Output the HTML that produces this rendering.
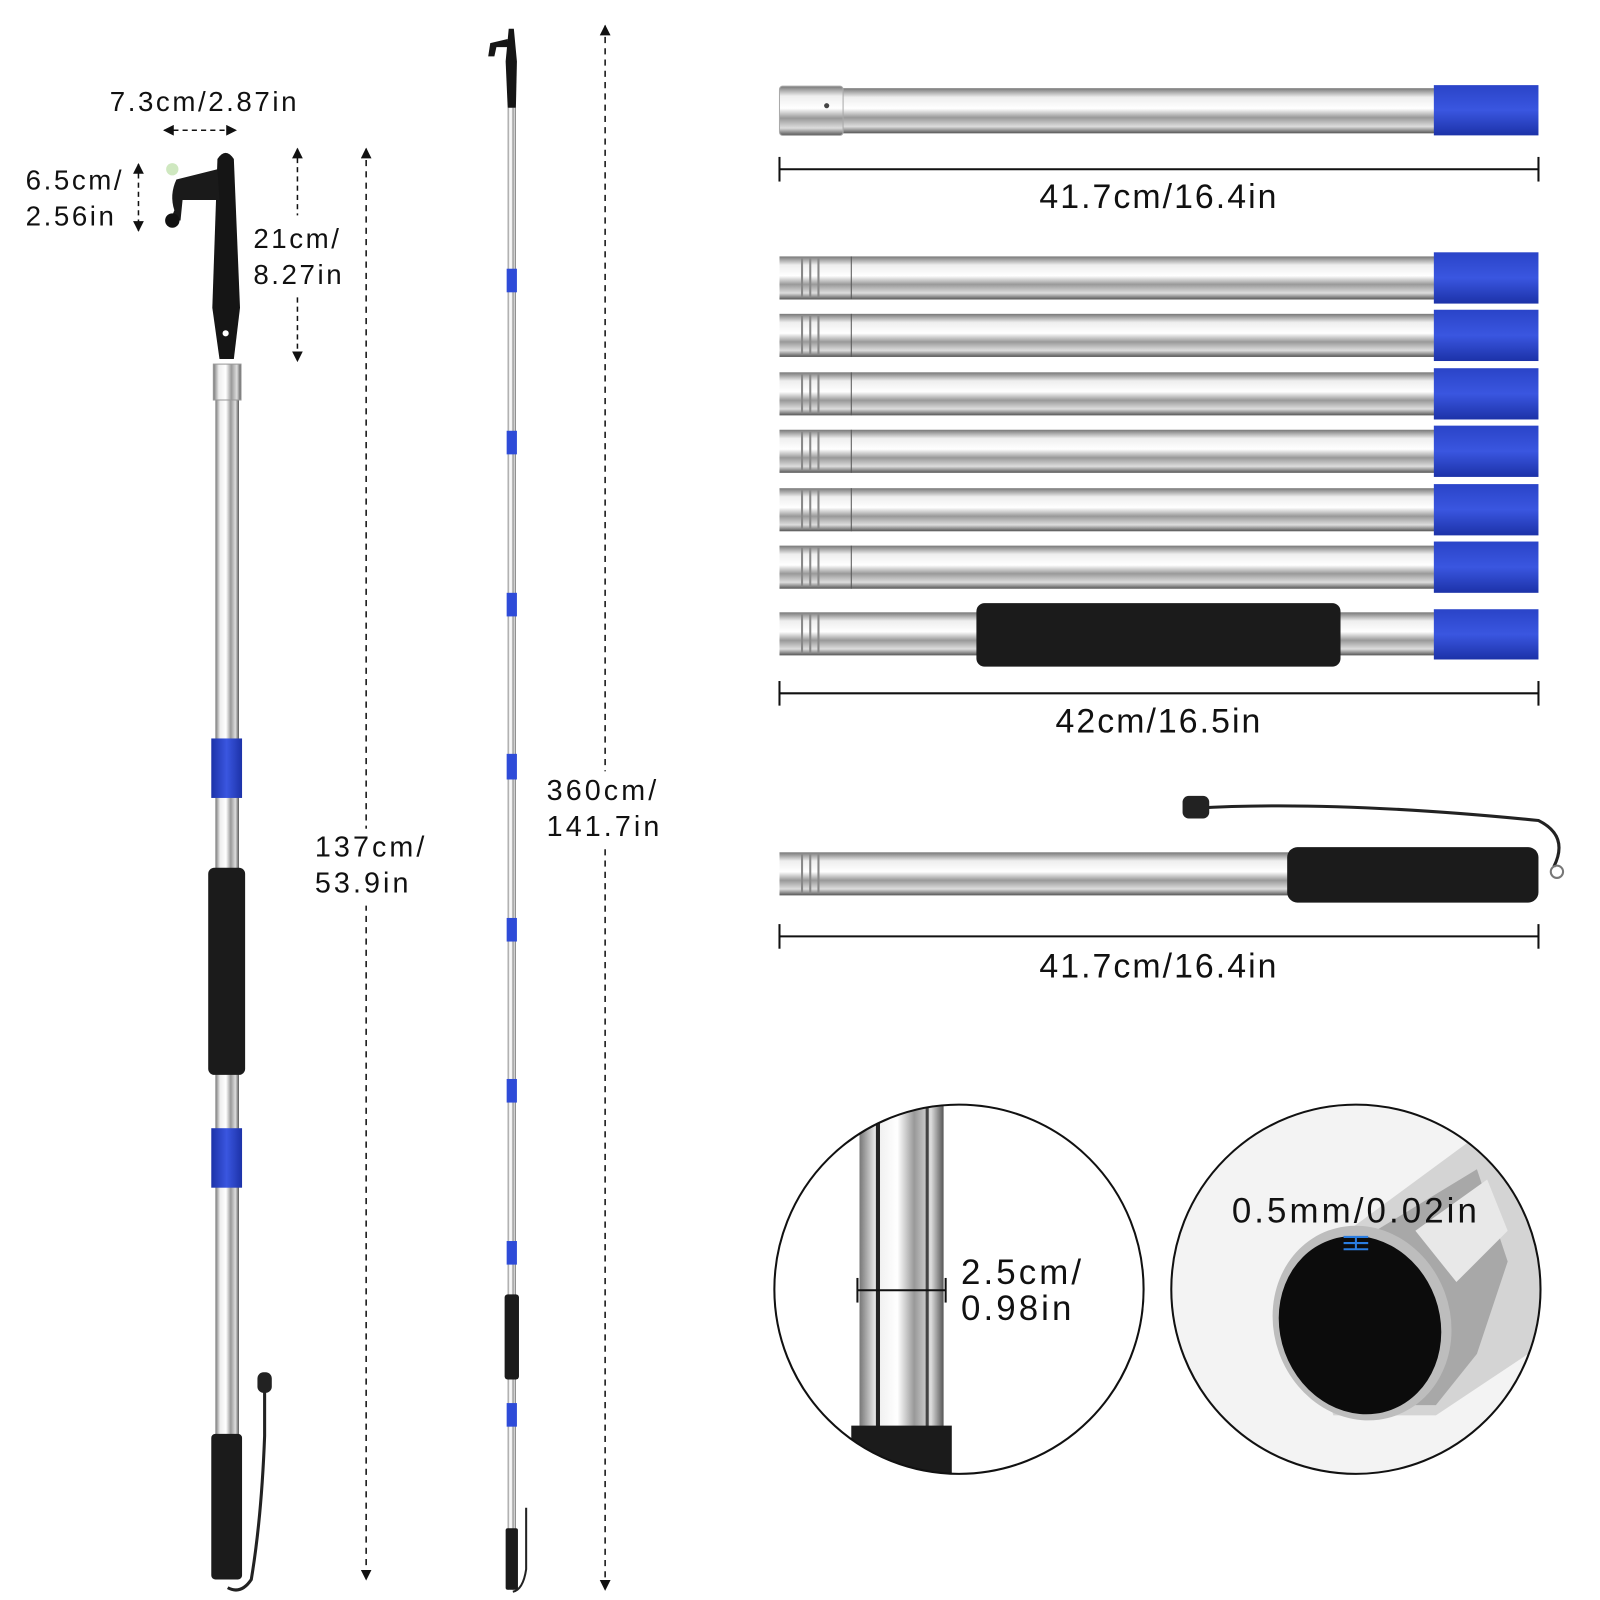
<!DOCTYPE html>
<html><head><meta charset="utf-8"><style>
html,body{margin:0;padding:0;background:#fff;width:1600px;height:1600px;overflow:hidden}
svg{display:block}
text{font-family:"Liberation Sans",sans-serif;fill:#111}
.s{font-size:27px;letter-spacing:2.5px}
.m{font-size:28px;letter-spacing:3px}
.b{font-size:33px;letter-spacing:2px}
</style></head><body>
<svg width="1600" height="1600" viewBox="0 0 1560 1560" xmlns="http://www.w3.org/2000/svg">
<defs>
<linearGradient id="st" x1="0" y1="0" x2="0" y2="1">
<stop offset="0" stop-color="#777"/><stop offset=".2" stop-color="#eee"/><stop offset=".45" stop-color="#fff"/><stop offset=".65" stop-color="#999"/><stop offset=".85" stop-color="#ddd"/><stop offset="1" stop-color="#555"/></linearGradient>
<linearGradient id="sv" x1="0" y1="0" x2="1" y2="0">
<stop offset="0" stop-color="#777"/><stop offset=".2" stop-color="#eee"/><stop offset=".45" stop-color="#fff"/><stop offset=".65" stop-color="#999"/><stop offset=".85" stop-color="#ddd"/><stop offset="1" stop-color="#555"/></linearGradient>
<linearGradient id="bl" x1="0" y1="0" x2="0" y2="1"><stop offset="0" stop-color="#2a44c8"/><stop offset=".5" stop-color="#3a56e0"/><stop offset="1" stop-color="#1c32a8"/></linearGradient>
<linearGradient id="blv" x1="0" y1="0" x2="1" y2="0"><stop offset="0" stop-color="#1c32a8"/><stop offset=".5" stop-color="#3a56e0"/><stop offset="1" stop-color="#1c32a8"/></linearGradient>
<marker id="ar" viewBox="0 0 10 10" refX="9" refY="5" markerWidth="7" markerHeight="7" orient="auto-start-reverse"><path d="M0,0L10,5L0,10z" fill="#111"/></marker>
<clipPath id="c1"><circle cx="935" cy="1257" r="180"/></clipPath>
<clipPath id="c2"><circle cx="1322" cy="1257" r="180"/></clipPath>
</defs>

<!-- LEFT POLE -->
<rect x="210" y="355" width="23" height="1050" fill="url(#sv)"/>
<rect x="208" y="355" width="27" height="35" fill="url(#sv)" stroke="#999"/>
<path d="M214,350 L207,300 L212,155 Q220,143 228,155 L234,300 L228,350z" fill="#151515"/>
<path d="M212,165 L172,175 Q165,190 170,205 L166,215 L176,215 L178,195 L214,195z" fill="#1a1a1a"/>
<circle cx="168" cy="165" r="6" fill="#cfe8c0"/><circle cx="168" cy="215" r="7" fill="#111"/>
<circle cx="220" cy="325" r="3" fill="#fff"/>
<rect x="206" y="720" width="30" height="58" fill="url(#blv)"/>
<rect x="206" y="1100" width="30" height="58" fill="url(#blv)"/>
<rect x="203" y="846" width="36" height="202" rx="6" fill="#1b1b1b"/>
<rect x="206" y="1398" width="30" height="142" rx="4" fill="#1b1b1b"/>
<path d="M258,1345 L258,1400 Q255,1480 245,1540 Q235,1555 222,1548" fill="none" stroke="#222" stroke-width="3"/>
<rect x="251" y="1338" width="14" height="20" rx="6" fill="#222"/>

<!-- left dims -->
<text x="107" y="108" class="s">7.3cm/2.87in</text>
<line x1="160" y1="127" x2="230" y2="127" stroke="#111" stroke-width="1.5" stroke-dasharray="5,4" marker-start="url(#ar)" marker-end="url(#ar)"/>
<text x="25" y="185" class="s">6.5cm/</text><text x="25" y="220" class="s">2.56in</text>
<line x1="135" y1="160" x2="135" y2="225" stroke="#111" stroke-width="1.5" stroke-dasharray="5,4" marker-start="url(#ar)" marker-end="url(#ar)"/>
<text x="247" y="242" class="s">21cm/</text><text x="247" y="277" class="s">8.27in</text>
<line x1="290" y1="145" x2="290" y2="210" stroke="#111" stroke-width="1.5" stroke-dasharray="5,4" marker-start="url(#ar)"/>
<line x1="290" y1="290" x2="290" y2="352" stroke="#111" stroke-width="1.5" stroke-dasharray="5,4" marker-end="url(#ar)"/>
<line x1="357" y1="145" x2="357" y2="1540" stroke="#111" stroke-width="1.5" stroke-dasharray="6,5" marker-start="url(#ar)" marker-end="url(#ar)"/>
<rect x="300" y="808" width="110" height="75" fill="#fff"/>
<text x="307" y="835" class="m">137cm/</text><text x="307" y="870" class="m">53.9in</text>

<!-- MIDDLE POLE -->
<rect x="495" y="105" width="8" height="1445" fill="url(#sv)"/>
<path d="M495,105 L493,60 L496,28 L501,28 L504,60 L503,105z" fill="#151515"/>
<path d="M495,38 L478,42 L476,55 L482,55 L484,46 L495,46z" fill="#151515"/>
<g fill="#2e4bd8">
<rect x="494" y="262" width="10" height="23"/><rect x="494" y="420" width="10" height="23"/>
<rect x="494" y="578" width="10" height="23"/><rect x="494" y="735" width="10" height="25"/>
<rect x="494" y="895" width="10" height="23"/><rect x="494" y="1052" width="10" height="23"/>
<rect x="494" y="1210" width="10" height="23"/><rect x="494" y="1368" width="10" height="23"/></g>
<rect x="492" y="1262" width="14" height="83" rx="3" fill="#1b1b1b"/>
<rect x="493" y="1490" width="12" height="60" rx="2" fill="#1b1b1b"/>
<path d="M513,1470 L513,1530 Q510,1550 500,1552" fill="none" stroke="#222" stroke-width="2"/>
<line x1="590" y1="25" x2="590" y2="1550" stroke="#111" stroke-width="1.5" stroke-dasharray="6,5" marker-start="url(#ar)" marker-end="url(#ar)"/>
<rect x="528" y="752" width="122" height="75" fill="#fff"/>
<text x="533" y="780" class="m">360cm/</text><text x="533" y="815" class="m">141.7in</text>

<!-- RIGHT TUBES -->
<rect x="760" y="86" width="640" height="44" fill="url(#st)"/>
<rect x="760" y="84" width="62" height="48" rx="3" fill="url(#st)" stroke="#aaa"/>
<circle cx="806" cy="103" r="2.5" fill="#444"/>
<rect x="1398" y="83" width="102" height="49" fill="url(#bl)"/>
<g stroke="#111" stroke-width="2"><line x1="760" y1="165" x2="1500" y2="165"/><line x1="760" y1="153" x2="760" y2="177"/><line x1="1500" y1="153" x2="1500" y2="177"/></g>
<text x="1130" y="203" class="b" text-anchor="middle">41.7cm/16.4in</text>

<g id="row">
<rect x="760" y="250" width="640" height="42" fill="url(#st)"/>
<g stroke="#888" stroke-width="2"><line x1="782" y1="252" x2="782" y2="290"/><line x1="790" y1="252" x2="790" y2="290"/><line x1="798" y1="252" x2="798" y2="290"/></g>
<line x1="830" y1="250" x2="830" y2="292" stroke="#555"/>
<rect x="1398" y="246" width="102" height="50" fill="url(#bl)"/>
</g>
<use href="#row" y="56"/><use href="#row" y="113"/><use href="#row" y="169"/><use href="#row" y="226"/><use href="#row" y="282"/>
<rect x="760" y="597" width="640" height="42" fill="url(#st)"/>
<g stroke="#888" stroke-width="2"><line x1="782" y1="599" x2="782" y2="637"/><line x1="790" y1="599" x2="790" y2="637"/><line x1="798" y1="599" x2="798" y2="637"/></g>
<rect x="1398" y="594" width="102" height="49" fill="url(#bl)"/>
<rect x="952" y="588" width="355" height="62" rx="8" fill="#1b1b1b"/>
<g stroke="#111" stroke-width="2"><line x1="760" y1="676" x2="1500" y2="676"/><line x1="760" y1="664" x2="760" y2="688"/><line x1="1500" y1="664" x2="1500" y2="688"/></g>
<text x="1130" y="714" class="b" text-anchor="middle">42cm/16.5in</text>

<rect x="760" y="831" width="500" height="42" fill="url(#st)"/>
<g stroke="#888" stroke-width="2"><line x1="782" y1="833" x2="782" y2="871"/><line x1="790" y1="833" x2="790" y2="871"/><line x1="798" y1="833" x2="798" y2="871"/></g>
<rect x="1255" y="826" width="245" height="54" rx="10" fill="#1b1b1b"/>
<path d="M1165,788 Q1300,780 1500,800 Q1530,815 1515,845" fill="none" stroke="#222" stroke-width="3"/>
<rect x="1153" y="776" width="26" height="22" rx="6" fill="#222"/>
<circle cx="1518" cy="850" r="6" fill="none" stroke="#777" stroke-width="2"/>
<g stroke="#111" stroke-width="2"><line x1="760" y1="913" x2="1500" y2="913"/><line x1="760" y1="901" x2="760" y2="925"/><line x1="1500" y1="901" x2="1500" y2="925"/></g>
<text x="1130" y="953" class="b" text-anchor="middle">41.7cm/16.4in</text>

<!-- CIRCLE 1 -->
<g clip-path="url(#c1)">
<rect x="838" y="1070" width="82" height="380" fill="url(#sv)"/>
<line x1="856" y1="1070" x2="856" y2="1400" stroke="#222" stroke-width="4"/>
<line x1="904" y1="1070" x2="904" y2="1400" stroke="#444" stroke-width="3"/>
<path d="M830,1390 L928,1390 L928,1450 L830,1450z" fill="#1b1b1b"/>
</g>
<circle cx="935" cy="1257" r="180" fill="none" stroke="#111" stroke-width="2"/>
<g stroke="#111" stroke-width="2"><line x1="836" y1="1258" x2="922" y2="1258"/><line x1="836" y1="1246" x2="836" y2="1270"/><line x1="922" y1="1246" x2="922" y2="1270"/></g>
<text x="937" y="1252" font-size="34" letter-spacing="3">2.5cm/</text><text x="937" y="1287" font-size="34" letter-spacing="3">0.98in</text>

<!-- CIRCLE 2 -->
<g clip-path="url(#c2)">
<rect x="1140" y="1075" width="364" height="364" fill="#f3f3f3"/>
<path d="M1260,1240 L1450,1100 L1520,1180 L1520,1300 L1400,1380 L1300,1380z" fill="#d4d4d4"/>
<path d="M1300,1225 L1440,1140 L1470,1230 L1440,1320 L1400,1370 L1310,1370z" fill="#a8a8a8"/>
<path d="M1380,1200 L1450,1150 L1470,1200 L1420,1250z" fill="#e8e8e8"/>
<ellipse cx="1328" cy="1290" rx="86" ry="96" transform="rotate(-20 1328 1290)" fill="#bdbdbd"/>
<ellipse cx="1326" cy="1292" rx="78" ry="88" transform="rotate(-20 1326 1292)" fill="#0c0c0c"/>
</g>
<circle cx="1322" cy="1257" r="180" fill="none" stroke="#111" stroke-width="2"/>
<text x="1322" y="1192" font-size="34" letter-spacing="3" text-anchor="middle">0.5mm/0.02in</text>
<g stroke="#2a7de0" stroke-width="2"><line x1="1310" y1="1212" x2="1334" y2="1212"/><line x1="1322" y1="1206" x2="1322" y2="1218"/><line x1="1310" y1="1206" x2="1334" y2="1206"/><line x1="1310" y1="1218" x2="1334" y2="1218"/></g>
</svg>
</body></html>
